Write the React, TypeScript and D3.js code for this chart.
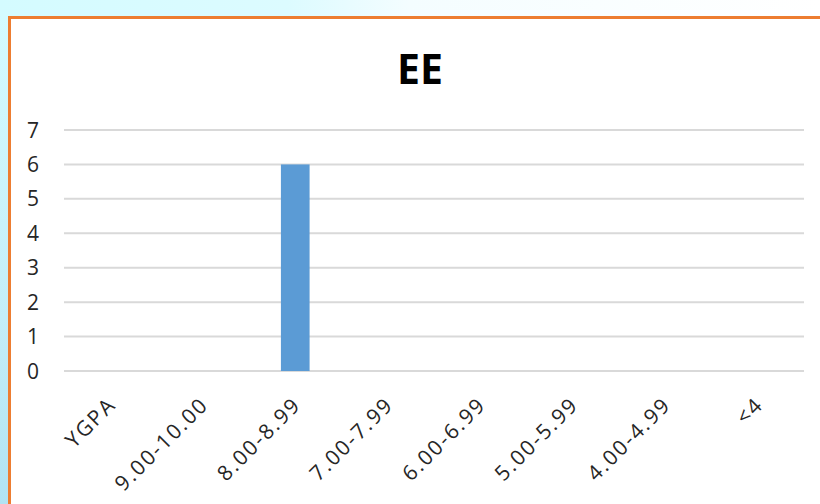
import React from "react";
import * as d3 from "d3";

const categories = ["YGPA", "9.00-10.00", "8.00-8.99", "7.00-7.99", "6.00-6.99", "5.00-5.99", "4.00-4.99", "<4"];
const values = [0, 0, 6, 0, 0, 0, 0, 0];
const yTicks = [0, 1, 2, 3, 4, 5, 6, 7];
const title = "EE";

export default function App() {
  const W = 820, H = 504;
  const x = d3.scaleBand<string>().domain(categories).range([64, 804]).padding(0);
  const y = d3.scaleLinear().domain([0, 7]).range([371, 130]);
  const barW = x.bandwidth() * 0.31;
  const font = "'Open Sans', 'DejaVu Sans', sans-serif";
  return (
    <svg width={W} height={H} style={{ position: "absolute", left: 0, top: 0 }}>
      <defs>
        <linearGradient id="bg" x1="0" y1="0" x2="1" y2="0">
          <stop offset="0" stopColor="#d4fbff" />
          <stop offset="0.35" stopColor="#dcfbff" />
          <stop offset="0.5" stopColor="#f4fdff" />
          <stop offset="1" stopColor="#ffffff" />
        </linearGradient>
        <linearGradient id="lbg" x1="0" y1="0" x2="0" y2="1">
          <stop offset="0" stopColor="#d4fbff" />
          <stop offset="0.6" stopColor="#c4eef8" />
          <stop offset="1" stopColor="#b0e2f2" />
        </linearGradient>
      </defs>
      <rect x={0} y={0} width={W} height={H} fill="url(#bg)" />
      <rect x={0} y={16} width={10} height={H} fill="url(#lbg)" />
      <rect x={9.5} y={17.5} width={830} height={520} fill="#ffffff" stroke="#ED7D31" strokeWidth={3} />
      <text x={420} y={84} textAnchor="middle" fontFamily={font} fontWeight="bold" fontSize={41} fill="#000">{title}</text>
      {yTicks.map((t) => (
        <g key={t}>
          <line x1={64} x2={804} y1={y(t)} y2={y(t)} stroke="#d9d9d9" strokeWidth={2} />
          <text x={39} y={y(t)} dy="0.36em" textAnchor="end" fontFamily={font} fontSize={21} fill="#262626">{t}</text>
        </g>
      ))}
      {categories.map((c, i) => (
        <rect key={c} x={(x(c) as number) + x.bandwidth() / 2 - barW / 2} y={y(values[i])} width={barW} height={y(0) - y(values[i])} fill="#5B9BD5" />
      ))}
      {categories.map((c) => {
        const cx = (x(c) as number) + x.bandwidth() / 2 + 7;
        return (
          <text key={c} transform={`translate(${cx},406) rotate(-45)`} textAnchor="end" fontFamily={font} fontSize={21} letterSpacing={2} fill="#262626">{c}</text>
        );
      })}
    </svg>
  );
}
